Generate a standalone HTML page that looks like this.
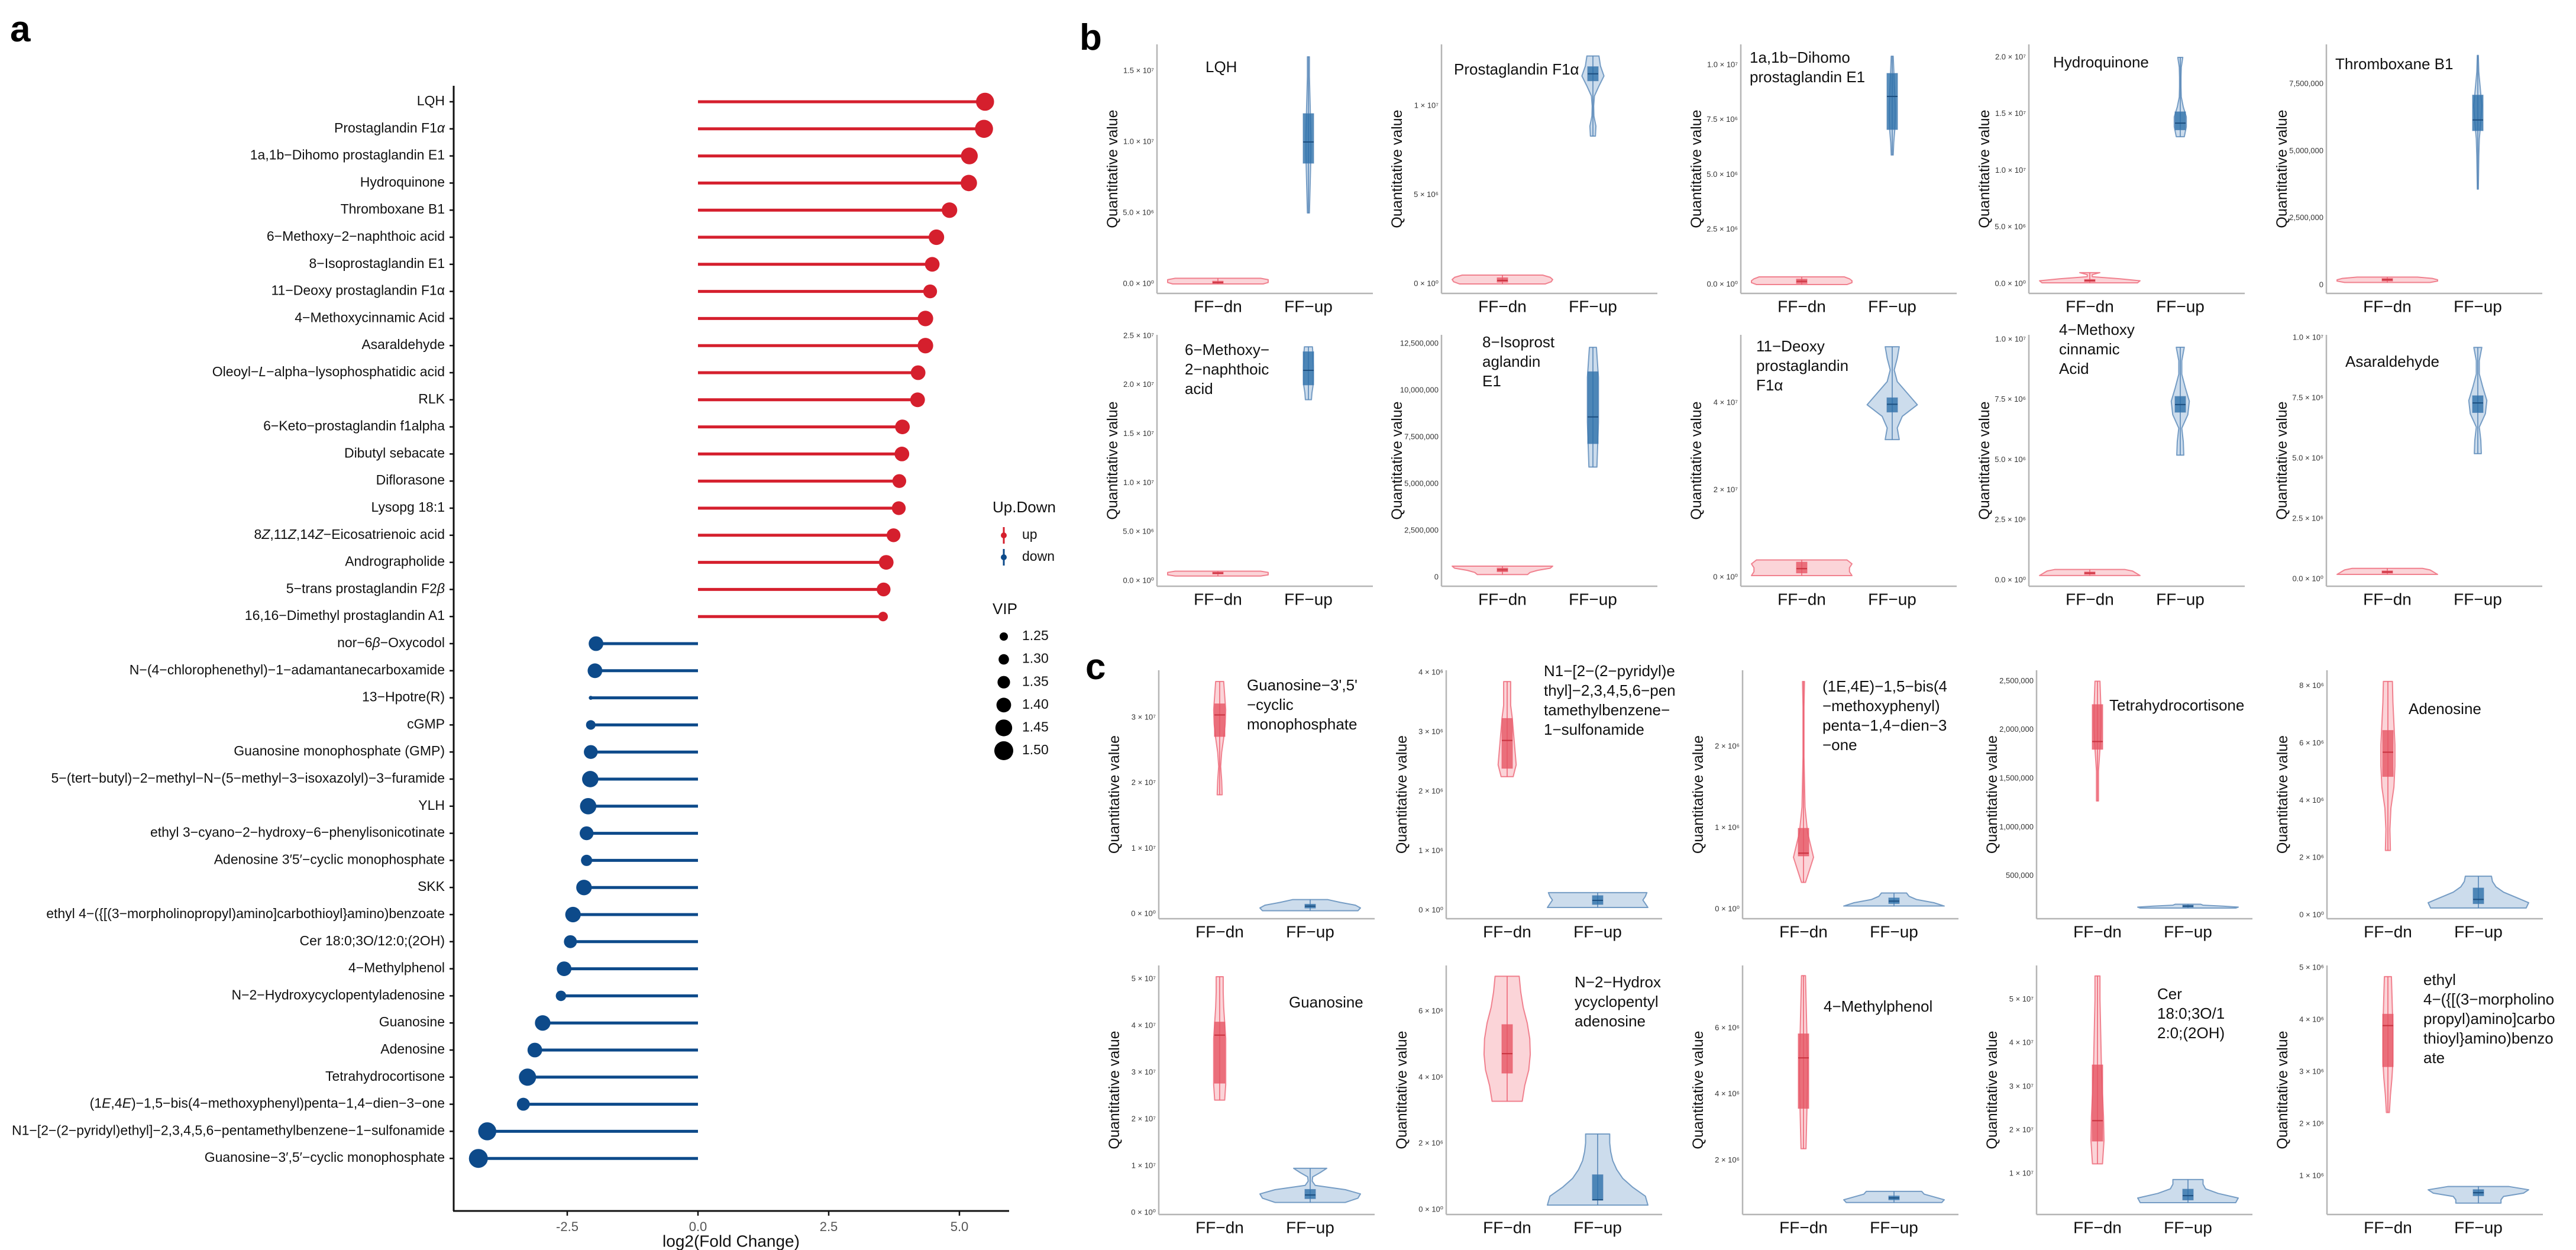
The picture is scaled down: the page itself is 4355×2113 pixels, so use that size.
<!DOCTYPE html>
<html><head><meta charset="utf-8"><style>
html,body{margin:0;padding:0;background:#fff;}
svg{display:block;font-family:"Liberation Sans",sans-serif;}
</style></head><body>
<svg id="fig" width="4355" height="2113" viewBox="0 0 4355 2113" xmlns="http://www.w3.org/2000/svg">
<rect width="4355" height="2113" fill="#fff"/>
<text x="17" y="70" font-size="62" font-weight="bold">a</text>
<text x="1825" y="84" font-size="62" font-weight="bold">b</text>
<text x="1835" y="1148" font-size="62" font-weight="bold">c</text>
<g id="pa"></g>
<g id="pv"></g>
</svg>
<script>
// ---------- Panel a data ----------
const aLabels = ["LQH","Prostaglandin F1*α*","1a,1b−Dihomo prostaglandin E1","Hydroquinone","Thromboxane B1","6−Methoxy−2−naphthoic acid","8−Isoprostaglandin E1","11−Deoxy prostaglandin F1α","4−Methoxycinnamic Acid","Asaraldehyde","Oleoyl−*L*−alpha−lysophosphatidic  acid","RLK","6−Keto−prostaglandin f1alpha","Dibutyl sebacate","Diflorasone","Lysopg 18:1","8*Z*,11*Z*,14*Z*−Eicosatrienoic acid","Andrographolide","5−trans prostaglandin F2*β*","16,16−Dimethyl prostaglandin A1","nor−6*β*−Oxycodol","N−(4−chlorophenethyl)−1−adamantanecarboxamide","13−Hpotre(R)","cGMP","Guanosine monophosphate (GMP)","5−(tert−butyl)−2−methyl−N−(5−methyl−3−isoxazolyl)−3−furamide","YLH","ethyl 3−cyano−2−hydroxy−6−phenylisonicotinate","Adenosine 3′5′−cyclic monophosphate","SKK","ethyl 4−({[(3−morpholinopropyl)amino]carbothioyl}amino)benzoate","Cer 18:0;3O/12:0;(2OH)","4−Methylphenol","N−2−Hydroxycyclopentyladenosine","Guanosine","Adenosine","Tetrahydrocortisone","(1*E*,4*E*)−1,5−bis(4−methoxyphenyl)penta−1,4−dien−3−one","N1−[2−(2−pyridyl)ethyl]−2,3,4,5,6−pentamethylbenzene−1−sulfonamide","Guanosine−3′,5′−cyclic monophosphate"];
const aFC = [5.49,5.47,5.19,5.18,4.81,4.56,4.48,4.44,4.35,4.35,4.21,4.20,3.91,3.90,3.85,3.84,3.74,3.60,3.55,3.54,-1.95,-1.97,-2.05,-2.05,-2.05,-2.06,-2.10,-2.13,-2.13,-2.18,-2.39,-2.44,-2.56,-2.62,-2.97,-3.12,-3.26,-3.34,-4.03,-4.20];
const aVIP = [1.48,1.48,1.45,1.44,1.42,1.42,1.40,1.38,1.42,1.42,1.40,1.40,1.40,1.40,1.38,1.38,1.38,1.40,1.38,1.28,1.40,1.40,1.15,1.28,1.38,1.44,1.44,1.38,1.32,1.42,1.42,1.36,1.40,1.30,1.42,1.40,1.46,1.36,1.48,1.50];
const aXTicks = [-2.5,0,2.5,5.0];
const aXTickLabels = ["-2.5","0.0","2.5","5.0"];
const vipLegend = [1.25,1.30,1.35,1.40,1.45,1.50];
const vipLegendLabels = ["1.25","1.30","1.35","1.40","1.45","1.50"];

// ---------- Panel b/c data ----------
const vTitles = [["LQH"],["Prostaglandin F1α"],["1a,1b−Dihomo","prostaglandin E1"],["Hydroquinone"],["Thromboxane B1"],
 ["6−Methoxy−","2−naphthoic","acid"],["8−Isoprost","aglandin","E1"],["11−Deoxy","prostaglandin","F1α"],["4−Methoxy","cinnamic","Acid"],["Asaraldehyde"],
 ["Guanosine−3',5'","−cyclic","monophosphate"],["N1−[2−(2−pyridyl)e","thyl]−2,3,4,5,6−pen","tamethylbenzene−","1−sulfonamide"],["(1E,4E)−1,5−bis(4","−methoxyphenyl)","penta−1,4−dien−3","−one"],["Tetrahydrocortisone"],["Adenosine"],
 ["Guanosine"],["N−2−Hydrox","ycyclopentyl","adenosine"],["4−Methylphenol"],["Cer","18:0;3O/1","2:0;(2OH)"],["ethyl","4−({[(3−morpholino","propyl)amino]carbo","thioyl}amino)benzo","ate"]];
const vDomains = [[-0.0667e7,1.6875e7],[-0.053e7,1.345e7],[-0.0404e7,1.094e7],[-0.0835e7,2.115e7],[-0.309e6,8.98e6],
 [-0.054e7,2.512e7],[-0.475e6,12.97e6],[-0.204e7,5.563e7],[-0.0246e7,1.0197e7],[-0.029e7,1.012e7],
 [-0.072e7,3.722e7],[-0.139e6,4.04e6],[-0.116e6,2.938e6],[0.061e6,2.612e6],[-0.124e6,8.55e6],
 [-0.038e7,5.29e7],[-0.144e6,7.387e6],[0.358e6,7.90e6],[0.0679e7,5.78e7],[0.261e6,5.045e6]];
const vTicks = [[0,0.5e7,1e7,1.5e7],[0,5e6,1e7],[0,2.5e6,5e6,7.5e6,1e7],[0,5e6,1e7,1.5e7,2e7],[0,2.5e6,5e6,7.5e6],
 [0,5e6,1e7,1.5e7,2e7,2.5e7],[0,2.5e6,5e6,7.5e6,1e7,1.25e7],[0,2e7,4e7],[0,2.5e6,5e6,7.5e6,1e7],[0,2.5e6,5e6,7.5e6,1e7],
 [0,1e7,2e7,3e7],[0,1e6,2e6,3e6,4e6],[0,1e6,2e6],[5e5,1e6,1.5e6,2e6,2.5e6],[0,2e6,4e6,6e6,8e6],
 [0,1e7,2e7,3e7,4e7,5e7],[0,2e6,4e6,6e6],[2e6,4e6,6e6],[1e7,2e7,3e7,4e7,5e7],[1e6,2e6,3e6,4e6,5e6]];
const vTickLabels = [["0.0 × 10⁰","5.0 × 10⁶","1.0 × 10⁷","1.5 × 10⁷"],["0 × 10⁰","5 × 10⁶","1 × 10⁷"],["0.0 × 10⁰","2.5 × 10⁶","5.0 × 10⁶","7.5 × 10⁶","1.0 × 10⁷"],["0.0 × 10⁰","5.0 × 10⁶","1.0 × 10⁷","1.5 × 10⁷","2.0 × 10⁷"],["0","2,500,000","5,000,000","7,500,000"],
 ["0.0 × 10⁰","5.0 × 10⁶","1.0 × 10⁷","1.5 × 10⁷","2.0 × 10⁷","2.5 × 10⁷"],["0","2,500,000","5,000,000","7,500,000","10,000,000","12,500,000"],["0 × 10⁰","2 × 10⁷","4 × 10⁷"],["0.0 × 10⁰","2.5 × 10⁶","5.0 × 10⁶","7.5 × 10⁶","1.0 × 10⁷"],["0.0 × 10⁰","2.5 × 10⁶","5.0 × 10⁶","7.5 × 10⁶","1.0 × 10⁷"],
 ["0 × 10⁰","1 × 10⁷","2 × 10⁷","3 × 10⁷"],["0 × 10⁰","1 × 10⁶","2 × 10⁶","3 × 10⁶","4 × 10⁶"],["0 × 10⁰","1 × 10⁶","2 × 10⁶"],["500,000","1,000,000","1,500,000","2,000,000","2,500,000"],["0 × 10⁰","2 × 10⁶","4 × 10⁶","6 × 10⁶","8 × 10⁶"],
 ["0 × 10⁰","1 × 10⁷","2 × 10⁷","3 × 10⁷","4 × 10⁷","5 × 10⁷"],["0 × 10⁰","2 × 10⁶","4 × 10⁶","6 × 10⁶"],["2 × 10⁶","4 × 10⁶","6 × 10⁶"],["1 × 10⁷","2 × 10⁷","3 × 10⁷","4 × 10⁷","5 × 10⁷"],["1 × 10⁶","2 × 10⁶","3 × 10⁶","4 × 10⁶","5 × 10⁶"]];
// [min, q1, median, q3, max]
const dnStats = [[0,0.005e7,0.01e7,0.02e7,0.04e7],[0,0.01e7,0.02e7,0.035e7,0.05e7],[0,0.005e7,0.015e7,0.025e7,0.035e7],[0.01e7,0.02e7,0.03e7,0.04e7,0.1e7],[0.1e6,0.15e6,0.2e6,0.25e6,0.3e6],
 [0.05e7,0.07e7,0.08e7,0.09e7,0.1e7],[0.15e6,0.3e6,0.4e6,0.5e6,0.6e6],[0.04e7,0.1e7,0.2e7,0.35e7,0.4e7],[0.02e7,0.025e7,0.03e7,0.035e7,0.045e7],[0.02e7,0.025e7,0.03e7,0.035e7,0.045e7],
 [1.82e7,2.71e7,3.04e7,3.21e7,3.55e7],[2.25e6,2.39e6,2.86e6,3.23e6,3.85e6],[0.33e6,0.655e6,0.69e6,0.996e6,2.8e6],[1.27e6,1.80e6,1.88e6,2.26e6,2.5e6],[2.26e6,4.84e6,5.69e6,6.45e6,8.16e6],
 [2.41e7,2.77e7,3.8e7,4.08e7,5.05e7],[3.28e6,4.13e6,4.72e6,5.6e6,7.06e6],[2.35e6,3.57e6,5.1e6,5.83e6,7.59e6],[1.23e7,1.75e7,2.22e7,3.5e7,5.54e7],[2.22e6,3.10e6,3.89e6,4.11e6,4.83e6]];
const upStats = [[0.5e7,0.85e7,1.0e7,1.2e7,1.6e7],[0.83e7,1.14e7,1.18e7,1.22e7,1.28e7],[0.59e7,0.706e7,0.857e7,0.962e7,1.04e7],[1.30e7,1.36e7,1.42e7,1.52e7,2.0e7],[3.58e6,5.76e6,6.16e6,7.09e6,8.57e6],
 [1.85e7,2.0e7,2.15e7,2.34e7,2.39e7],[5.9e6,7.15e6,8.58e6,11.0e6,12.3e6],[3.16e7,3.79e7,3.97e7,4.12e7,5.29e7],[0.52e7,0.698e7,0.73e7,0.764e7,0.968e7],[0.52e7,0.69e7,0.73e7,0.76e7,0.96e7],
 [0.05e7,0.09e7,0.12e7,0.15e7,0.22e7],[0.05e6,0.1e6,0.17e6,0.25e6,0.3e6],[0.04e6,0.07e6,0.1e6,0.14e6,0.2e6],[0.17e6,0.18e6,0.19e6,0.2e6,0.21e6],[0.25e6,0.4e6,0.55e6,0.95e6,1.36e6],
 [0.22e7,0.3e7,0.38e7,0.5e7,0.95e7],[0.14e6,0.29e6,0.3e6,1.06e6,2.29e6],[0.72e6,0.8e6,0.86e6,0.92e6,1.06e6],[0.34e7,0.4e7,0.5e7,0.65e7,0.87e7],[0.48e6,0.62e6,0.68e6,0.74e6,0.80e6]];
// relative violin half-widths, evenly spaced from min to max
const dnDens = [[0.9,1,1,1,0.85],[0.85,0.97,1,0.95,0.8],[0.9,1,1,0.95,0.85],[0.95,1,0.6,0.05,0.05,0.2],[0.85,1,1,0.9,0.6],
 [0.85,1,1,1,0.85],[0.5,0.55,0.7,0.95,1.0],[1,0.95,0.95,1,0.9],[1,0.95,0.9,0.85,0.7],[1,0.95,0.9,0.85,0.7],
 [0.05,0.04,0.02,0.04,0.08,0.11,0.12,0.1,0.08],[0.12,0.18,0.16,0.14,0.12,0.1,0.07,0.07,0.07],[0.04,0.2,0.08,0.03,0.02,0.01,0.01,0.01,0.02],[0.02,0.02,0.02,0.04,0.06,0.07,0.07,0.06,0.05],[0.05,0.04,0.06,0.12,0.14,0.14,0.12,0.1,0.09],
 [0.1,0.12,0.12,0.12,0.12,0.1,0.08,0.07,0.07],[0.3,0.35,0.43,0.46,0.45,0.4,0.32,0.27,0.24],[0.05,0.06,0.07,0.08,0.08,0.07,0.06,0.05,0.04],[0.1,0.13,0.12,0.1,0.08,0.07,0.06,0.05,0.05],[0.03,0.05,0.08,0.1,0.1,0.1,0.09,0.08,0.07]];
const upDens = [[0.02,0.03,0.04,0.05,0.05,0.04,0.03,0.02,0.02],[0.05,0.06,0.02,0.015,0.03,0.12,0.22,0.15,0.12],[0.02,0.03,0.05,0.06,0.06,0.05,0.04,0.03,0.02],[0.08,0.12,0.12,0.06,0.02,0.015,0.015,0.02,0.05],[0.01,0.015,0.02,0.03,0.06,0.08,0.05,0.02,0.01],
 [0.06,0.07,0.09,0.1,0.1,0.1,0.09,0.09,0.08],[0.08,0.09,0.1,0.11,0.11,0.11,0.11,0.09,0.07],[0.14,0.1,0.2,0.5,0.3,0.1,0.04,0.1,0.14],[0.07,0.06,0.03,0.15,0.18,0.1,0.03,0.03,0.08],[0.07,0.06,0.03,0.15,0.18,0.1,0.03,0.03,0.08],
 [0.95,1,0.9,0.6,0.35],[1,0.95,0.9,0.95,0.98],[1,0.8,0.45,0.3,0.25],[0.95,1,0.7,0.3,0.25],[0.95,1,0.75,0.5,0.35,0.28,0.26],
 [0.7,0.95,1.0,0.7,0.1,0.04,0.05,0.2,0.33],[1,0.95,0.7,0.5,0.38,0.3,0.26,0.24,0.24],[0.95,1,0.8,0.6,0.55],[0.95,1,0.6,0.35,0.3,0.3],[0.45,0.45,0.5,0.9,1.0,0.6]];
const catLabels = ["FF−dn","FF−up"];

const NS = "http://www.w3.org/2000/svg";
function mk(tag, attrs, parent){ const e=document.createElementNS(NS,tag); for(const k in attrs) e.setAttribute(k,attrs[k]); parent.appendChild(e); return e; }

// ---------- draw panel a ----------
(function(){
  const g = document.getElementById('pa');
  const x0 = 767, xEnd = 1706, yAxisTop = 145, yAxisBot = 2047;
  const xs = v => 1180 + v * 88.4;
  const ys = i => 172 + i * 45.8;
  const rad = vip => Math.max(3, 7 + (vip - 1.25) * 36);
  const red = "#d51f2d", blue = "#0d4a8a";
  let e;
  e = mk('line',{x1:x0,y1:yAxisTop,x2:x0,y2:yAxisBot,stroke:"#111","stroke-width":3},g);
   
  e = mk('line',{x1:x0-1,y1:yAxisBot,x2:xEnd,y2:yAxisBot,stroke:"#111","stroke-width":3},g);
   
  aLabels.forEach((lab,i)=>{
    const y = ys(i);
    mk('line',{x1:x0-7,y1:y,x2:x0,y2:y,stroke:"#111","stroke-width":2.5},g);
    const t = mk('text',{x:752,y:y,"font-size":23,"text-anchor":"end","dominant-baseline":"middle",fill:"#111"},g);
     
    lab.split('*').forEach((part,k)=>{ const s=mk('tspan',k%2?{"font-style":"italic"}:{},t); s.textContent=part; });
    const c = aFC[i] >= 0 ? red : blue;
    const st = mk('line',{x1:xs(0),y1:y,x2:xs(aFC[i]),y2:y,stroke:c,"stroke-width":5},g);
     
    const d = mk('circle',{cx:xs(aFC[i]),cy:y,r:rad(aVIP[i]),fill:c},g);
     
  });
  aXTicks.forEach((v,i)=>{
    mk('line',{x1:xs(v),y1:yAxisBot,x2:xs(v),y2:yAxisBot+8,stroke:"#111","stroke-width":2.5},g);
    const t = mk('text',{x:xs(v),y:2075,"font-size":22,"text-anchor":"middle","dominant-baseline":"middle",fill:"#555"},g);
    t.textContent = aXTickLabels[i];
     
  });
  let t = mk('text',{x:1236,y:2100,"font-size":28,"text-anchor":"middle","dominant-baseline":"middle",fill:"#111"},g);
  t.textContent = "log2(Fold Change)";
   
  // legend
  t = mk('text',{x:1678,y:866,"font-size":26,fill:"#111"},g); t.textContent="Up.Down";
   
  [["up",red,905],["down",blue,942]].forEach(([lab,c,y])=>{
    mk('line',{x1:1697,y1:y-14,x2:1697,y2:y+14,stroke:c,"stroke-width":3},g);
    mk('circle',{cx:1697,cy:y,r:5,fill:c},g);
    const tt = mk('text',{x:1728,y:y,"font-size":23,"dominant-baseline":"middle",fill:"#111"},g); tt.textContent=lab;
     
  });
  t = mk('text',{x:1678,y:1038,"font-size":26,fill:"#111"},g); t.textContent="VIP";
   
  vipLegend.forEach((v,i)=>{
    const y = 1076 + i*38.6;
    const c = mk('circle',{cx:1697,cy:y,r:rad(v),fill:"#000"},g);
     
    const tt = mk('text',{x:1728,y:y,"font-size":23,"dominant-baseline":"middle",fill:"#111"},g); tt.textContent=vipLegendLabels[i];
     
  });
})();

// ---------- draw violin panels ----------
(function(){
  const g = document.getElementById('pv');
  const bAxisX = [1956,2437,2943,3430,3933], cAxisX = [1959,2445,2946,3443,3934];
  const rowsY = [[75,496],[566,991],[1133,1553],[1632,2053]];
  const titleX = [2038,2458,2958,3471,3948,2003,2506,2969,3481,3965,2108,2610,3081,3566,4072,2179,2662,3083,3647,4097];
  const titleY = [115,119,99,107,110,593,580,587,559,613,1160,1136,1162,1194,1200,1696,1662,1703,1682,1658];
  const HW = 85, BOXW = 9;
  const sty = {dn:{fill:"rgba(243,120,135,0.32)",stroke:"rgba(236,95,112,0.75)",box:"rgba(230,85,100,0.8)",med:"#c9323f"},
               up:{fill:"rgba(110,155,200,0.35)",stroke:"rgba(80,130,180,0.75)",box:"rgba(45,112,170,0.8)",med:"#1d4f80"}};
  for(let p=0;p<20;p++){
    const row = Math.floor(p/5), col = p%5;
    const ax = (row<2?bAxisX:cAxisX)[col];
    const [top,bot] = rowsY[row];
    const [lo,hi] = vDomains[p];
    const ys = v => bot - (v-lo)/(hi-lo)*(bot-top);
    const pg = mk('g',{},g);
     
    let e = mk('line',{x1:ax,y1:top,x2:ax,y2:bot,stroke:"#b5b5b5","stroke-width":2.5},pg);
     
    e = mk('line',{x1:ax,y1:bot,x2:ax+365,y2:bot,stroke:"#b5b5b5","stroke-width":2.5},pg);
     
    vTicks[p].forEach((v,i)=>{
      const t = mk('text',{x:ax-5,y:ys(v),"font-size":13,"text-anchor":"end","dominant-baseline":"middle",fill:"#333"},pg);
      t.textContent = vTickLabels[p][i];
       
    });
    const yt = mk('text',{x:0,y:0,"font-size":25,"text-anchor":"middle",fill:"#111",transform:`translate(${ax-67},${(top+bot)/2}) rotate(-90)`},pg);
    yt.textContent = "Quantitative value";
     
    catLabels.forEach((c,k)=>{
      const t = mk('text',{x:ax+103+k*153,y:bot+24,"font-size":28,"text-anchor":"middle","dominant-baseline":"middle",fill:"#111"},pg);
      t.textContent = c;
       
    });
    vTitles[p].forEach((ln,k)=>{
      const t = mk('text',{x:titleX[p],y:titleY[p]+k*33,"font-size":26,"dominant-baseline":"middle",fill:"#111"},pg);
      t.textContent = ln;
       
    });
    [["dn",dnStats[p],dnDens[p],ax+103],["up",upStats[p],upDens[p],ax+256]].forEach(([key,st,dens,cx])=>{
      const s = sty[key];
      const [mn,q1,md,q3,mx] = st;
      const n = dens.length;
      const pts = dens.map((w,i)=>[mn+(mx-mn)*i/(n-1), Math.max(0.8,w*HW)]);
      let d = "M"+pts.map(([v,w])=>`${cx+w},${ys(v)}`).join(" L");
      d += " L"+pts.slice().reverse().map(([v,w])=>`${cx-w},${ys(v)}`).join(" L")+" Z";
      const vp = mk('path',{d:d,fill:s.fill,stroke:s.stroke,"stroke-width":2,"stroke-linejoin":"round"},pg);
       
      mk('line',{x1:cx,y1:ys(mn),x2:cx,y2:ys(mx),stroke:s.stroke,"stroke-width":2},pg);
      const bx = mk('rect',{x:cx-BOXW,y:ys(q3),width:BOXW*2,height:Math.max(3,ys(q1)-ys(q3)),fill:s.box,stroke:s.stroke,"stroke-width":1},pg);
       
      mk('line',{x1:cx-BOXW,y1:ys(md),x2:cx+BOXW,y2:ys(md),stroke:s.med,"stroke-width":2},pg);
    });
  }
})();
</script>
</body></html>
